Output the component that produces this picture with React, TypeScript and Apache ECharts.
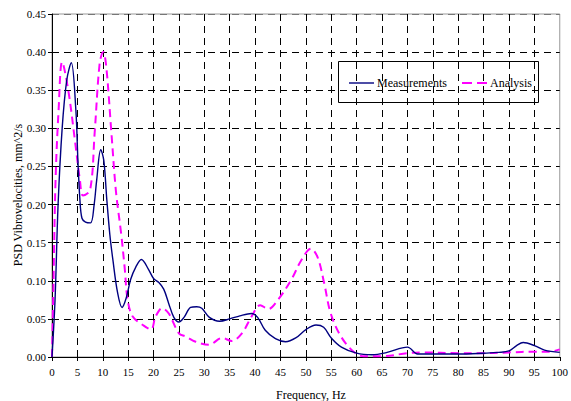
import React, { useEffect, useRef } from "react";
import * as echarts from "echarts";

// Frequency (Hz) and PSD values
const measFreq = [0, 0.6, 1.2, 2, 2.9, 3.8, 4.7, 5.1, 5.5, 5.9, 6.6, 7.6, 8.3, 8.8, 9.6, 10.2, 10.8, 11.4, 12, 12.9, 13.8, 14.6, 15.5, 16.5, 17.6, 19, 20, 21, 22, 23, 24, 25, 26, 27.3, 28.5, 29.5, 31, 33, 35, 37, 39.3, 40.5, 42, 44, 46, 48, 50, 52, 53.5, 55, 57, 60, 63, 66, 70, 72, 75, 80, 85, 88, 90, 91.5, 92.8, 95, 97, 100];
const measVals = [0, 0.075, 0.2, 0.3, 0.363, 0.386, 0.324, 0.258, 0.206, 0.182, 0.177, 0.176, 0.2, 0.232, 0.272, 0.258, 0.206, 0.16, 0.127, 0.085, 0.065, 0.077, 0.102, 0.118, 0.128, 0.115, 0.103, 0.098, 0.089, 0.07, 0.052, 0.046, 0.052, 0.065, 0.066, 0.064, 0.052, 0.047, 0.05, 0.054, 0.057, 0.052, 0.035, 0.024, 0.02, 0.025, 0.036, 0.042, 0.039, 0.025, 0.013, 0.005, 0.003, 0.006, 0.013, 0.004, 0.004, 0.004, 0.005, 0.006, 0.008, 0.015, 0.019, 0.015, 0.009, 0.006];

const anaFreq = [0, 0.3, 0.7, 1.3, 2, 3.2, 4.5, 5.5, 6.1, 7.5, 8.4, 9.4, 10.1, 10.7, 11.7, 12.6, 13.6, 14.3, 14.9, 15.9, 17.9, 19.5, 20.4, 21.7, 23, 25, 26.3, 28.3, 30.9, 33.5, 35.4, 37.4, 39.3, 41, 42.6, 44.5, 47.1, 49.1, 51, 52.3, 53.6, 54.9, 56.9, 59.4, 61.4, 65, 70, 73, 80, 85, 90, 95, 98, 100];
const anaVals = [0, 0.1, 0.232, 0.324, 0.387, 0.35, 0.285, 0.232, 0.212, 0.219, 0.294, 0.386, 0.4, 0.38, 0.294, 0.217, 0.163, 0.118, 0.075, 0.053, 0.042, 0.036, 0.053, 0.064, 0.057, 0.031, 0.027, 0.02, 0.016, 0.025, 0.021, 0.031, 0.053, 0.068, 0.063, 0.075, 0.101, 0.127, 0.142, 0.131, 0.097, 0.057, 0.027, 0.007, 0.001, 0.001, 0.005, 0.006, 0.005, 0.005, 0.006, 0.007, 0.007, 0.01];

const seriesNames = ["Measurements", "Analysis"];
const seriesColors = ["#000080", "#ff00ff"];

const FONT = "Liberation Serif";

export default function App() {
  const ref = useRef<HTMLDivElement>(null);
  useEffect(() => {
    if (!ref.current) return;
    const chart = echarts.init(ref.current, null, { renderer: "svg" });
    const ySplitColors = ["#000", "#000", "#000", "#000", "#000", "#000", "#000", "#000", "#000", "#777"];
    chart.setOption({
      animation: false,
      backgroundColor: "#fff",
      textStyle: { fontFamily: FONT, color: "#000" },
      grid: {
        left: 52,
        right: 7,
        top: 14,
        bottom: 44,
        show: true,
        borderColor: "#999",
        borderWidth: 1,
        backgroundColor: "transparent",
      },
      xAxis: {
        type: "value",
        min: 0,
        max: 100,
        interval: 5,
        axisLine: { show: true, lineStyle: { color: "#000", width: 1 } },
        axisTick: { show: true, length: 4, lineStyle: { color: "#000" } },
        axisLabel: { fontFamily: FONT, fontSize: 11, color: "#000", margin: 9 },
        splitLine: {
          show: true,
          showMaxLine: false,
          lineStyle: { color: "#000", type: [7, 5], width: 1 },
        },
      },
      yAxis: {
        type: "value",
        min: 0,
        max: 0.45,
        interval: 0.05,
        axisLine: { show: true, lineStyle: { color: "#000", width: 1 } },
        axisTick: { show: true, length: 4, lineStyle: { color: "#000" } },
        axisLabel: {
          fontFamily: FONT,
          fontSize: 11,
          color: "#000",
          margin: 6,
          formatter: (v: number) => v.toFixed(2),
        },
        splitLine: {
          show: true,
          lineStyle: { color: ySplitColors, type: [7, 5], width: 1 },
        },
      },
      graphic: [
        {
          type: "text",
          x: 18,
          y: 195,
          rotation: Math.PI / 2,
          style: {
            text: "PSD Vibrovelocities, mm^2/s",
            fontFamily: FONT,
            fontSize: 12,
            fill: "#000",
            align: "center",
            verticalAlign: "middle",
          },
        },
        {
          type: "text",
          x: 311,
          y: 395,
          style: {
            text: "Frequency, Hz",
            fontFamily: FONT,
            fontSize: 12,
            fill: "#000",
            align: "center",
            verticalAlign: "middle",
          },
        },
        {
          type: "group",
          z: 100,
          children: [
            {
              type: "rect",
              shape: { x: 338.5, y: 61.5, width: 200, height: 41 },
              style: { fill: "#fff", stroke: "#000", lineWidth: 1 },
            },
            {
              type: "line",
              shape: { x1: 349, y1: 83, x2: 374, y2: 83 },
              style: { stroke: seriesColors[0], lineWidth: 1.4 },
            },
            {
              type: "text",
              x: 377,
              y: 83,
              style: {
                text: seriesNames[0],
                fontFamily: FONT,
                fontSize: 12,
                fill: "#000",
                verticalAlign: "middle",
              },
            },
            {
              type: "line",
              shape: { x1: 462, y1: 83, x2: 488, y2: 83 },
              style: { stroke: seriesColors[1], lineWidth: 2, lineDash: [10, 5] },
            },
            {
              type: "text",
              x: 490,
              y: 83,
              style: {
                text: seriesNames[1],
                fontFamily: FONT,
                fontSize: 12,
                fill: "#000",
                verticalAlign: "middle",
              },
            },
          ],
        },
      ],
      series: [
        {
          name: seriesNames[0],
          type: "line",
          symbol: "none",
          smooth: 0.35,
          data: measFreq.map((f, i) => [f, measVals[i]]),
          lineStyle: { color: seriesColors[0], width: 1.4 },
          itemStyle: { color: seriesColors[0] },
          z: 3,
        },
        {
          name: seriesNames[1],
          type: "line",
          symbol: "none",
          smooth: 0.35,
          data: anaFreq.map((f, i) => [f, anaVals[i]]),
          lineStyle: { color: seriesColors[1], width: 2, type: [8, 5] },
          itemStyle: { color: seriesColors[1] },
          z: 2,
        },
      ],
    });
    return () => chart.dispose();
  }, []);
  return <div ref={ref} style={{ width: 571, height: 401, position: "absolute", left: 0, top: 0 }} />;
}
